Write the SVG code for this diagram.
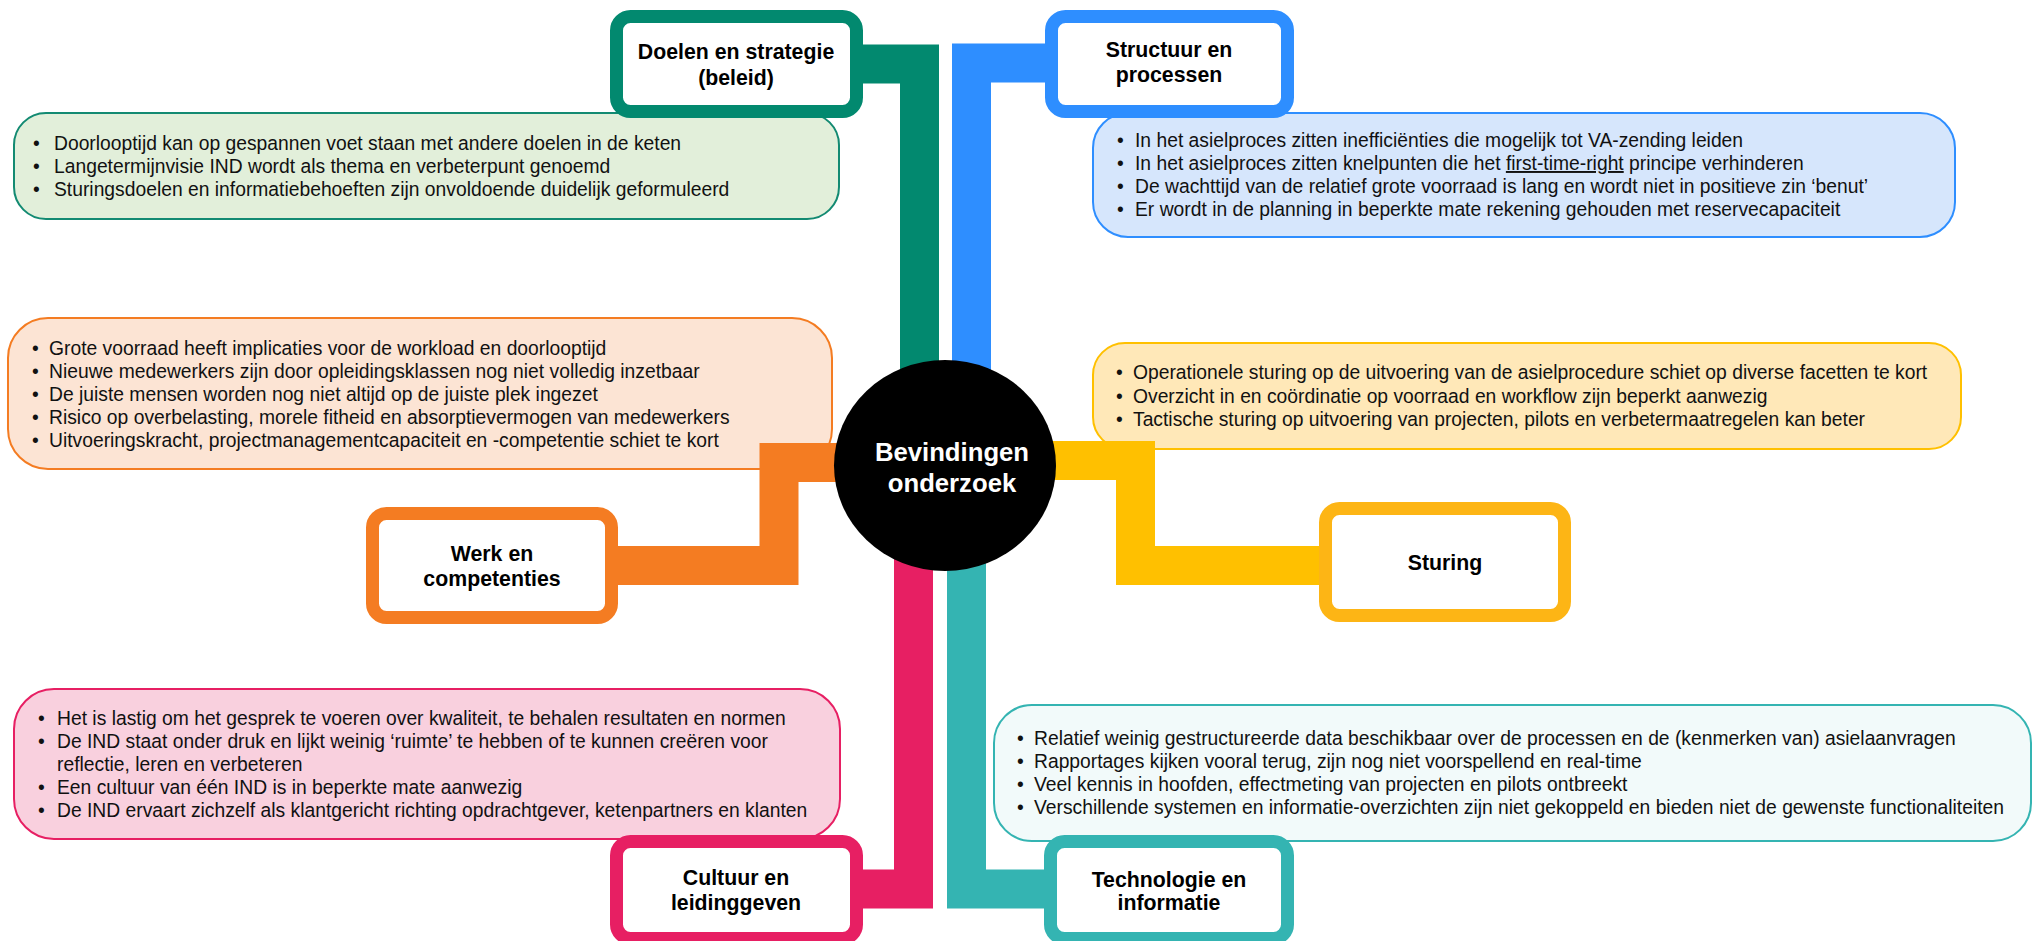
<svg xmlns="http://www.w3.org/2000/svg" width="2034" height="941" viewBox="0 0 2034 941">
<style>
text{font-family:"Liberation Sans",Arial,sans-serif;}
.b{font-size:19.3px;fill:#111;}
.lbl{font-size:21.3px;font-weight:bold;fill:#000;text-anchor:middle;}
.ctr{font-size:25.7px;font-weight:bold;fill:#fff;text-anchor:middle;}
.bub{stroke-width:2;}
.box{fill:#fff;stroke-width:13;}
.con{fill:none;stroke-width:39;stroke-linejoin:miter;stroke-linecap:butt;}
</style>
<rect width="2034" height="941" fill="#fff"/>

<g id="bubble-doelen">
<rect class="bub" x="14" y="113" width="825" height="106" rx="32" fill="#E2EFDA" stroke="#138A72"/>
<text class="b" x="33" y="150">•</text><text class="b" x="54" y="150">Doorlooptijd kan op gespannen voet staan met andere doelen in de keten</text>
<text class="b" x="33" y="173">•</text><text class="b" x="54" y="173">Langetermijnvisie IND wordt als thema en verbeterpunt genoemd</text>
<text class="b" x="33" y="196">•</text><text class="b" x="54" y="196">Sturingsdoelen en informatiebehoeften zijn onvoldoende duidelijk geformuleerd</text>
</g>
<g id="bubble-structuur">
<rect class="bub" x="1093" y="113" width="862" height="124" rx="35" fill="#D6E6FC" stroke="#2E8EFF"/>
<text class="b" x="1117" y="147">•</text><text class="b" x="1135" y="147">In het asielproces zitten inefficiënties die mogelijk tot VA-zending leiden</text>
<text class="b" x="1117" y="170">•</text><text class="b" x="1135" y="170">In het asielproces zitten knelpunten die het <tspan text-decoration="underline">first-time-right</tspan> principe verhinderen</text>
<text class="b" x="1117" y="193">•</text><text class="b" x="1135" y="193">De wachttijd van de relatief grote voorraad is lang en wordt niet in positieve zin ‘benut’</text>
<text class="b" x="1117" y="216">•</text><text class="b" x="1135" y="216">Er wordt in de planning in beperkte mate rekening gehouden met reservecapaciteit</text>
</g>
<g id="bubble-werk">
<rect class="bub" x="8" y="318" width="824" height="151" rx="40" fill="#FCE4D4" stroke="#F47C22"/>
<text class="b" x="32" y="355">•</text><text class="b" x="49" y="355">Grote voorraad heeft implicaties voor de workload en doorlooptijd</text>
<text class="b" x="32" y="378">•</text><text class="b" x="49" y="378">Nieuwe medewerkers zijn door opleidingsklassen nog niet volledig inzetbaar</text>
<text class="b" x="32" y="401">•</text><text class="b" x="49" y="401">De juiste mensen worden nog niet altijd op de juiste plek ingezet</text>
<text class="b" x="32" y="424">•</text><text class="b" x="49" y="424">Risico op overbelasting, morele fitheid en absorptievermogen van medewerkers</text>
<text class="b" x="32" y="447">•</text><text class="b" x="49" y="447">Uitvoeringskracht, projectmanagementcapaciteit en -competentie schiet te kort</text>
</g>
<g id="bubble-sturing">
<rect class="bub" x="1093" y="343" width="868" height="106" rx="32" fill="#FFE8B8" stroke="#FFC000"/>
<text class="b" x="1116" y="379">•</text><text class="b" x="1133" y="379">Operationele sturing op de uitvoering van de asielprocedure schiet op diverse facetten te kort</text>
<text class="b" x="1116" y="403">•</text><text class="b" x="1133" y="403">Overzicht in en coördinatie op voorraad en workflow zijn beperkt aanwezig</text>
<text class="b" x="1116" y="426">•</text><text class="b" x="1133" y="426">Tactische sturing op uitvoering van projecten, pilots en verbetermaatregelen kan beter</text>
</g>
<g id="bubble-cultuur">
<rect class="bub" x="14" y="689" width="826" height="150" rx="40" fill="#F9D0DE" stroke="#E71F63"/>
<text class="b" x="38" y="725">•</text><text class="b" x="57" y="725">Het is lastig om het gesprek te voeren over kwaliteit,  te behalen resultaten en normen</text>
<text class="b" x="38" y="748">•</text><text class="b" x="57" y="748">De IND staat onder druk en lijkt weinig ‘ruimte’ te hebben of te kunnen creëren voor</text>
<text class="b" x="57" y="771">reflectie, leren en verbeteren</text>
<text class="b" x="38" y="794">•</text><text class="b" x="57" y="794">Een cultuur van één IND is in beperkte mate aanwezig</text>
<text class="b" x="38" y="817">•</text><text class="b" x="57" y="817">De IND ervaart zichzelf als klantgericht richting opdrachtgever, ketenpartners en klanten</text>
</g>
<g id="bubble-technologie">
<rect class="bub" x="994" y="705" width="1037" height="136" rx="38" fill="#F2FAFA" stroke="#34B4B2"/>
<text class="b" x="1017" y="745">•</text><text class="b" x="1034" y="745">Relatief weinig gestructureerde data beschikbaar over de processen en de (kenmerken van) asielaanvragen</text>
<text class="b" x="1017" y="768">•</text><text class="b" x="1034" y="768">Rapportages kijken vooral terug, zijn nog niet voorspellend en real-time</text>
<text class="b" x="1017" y="791">•</text><text class="b" x="1034" y="791">Veel kennis in hoofden, effectmeting van projecten en pilots ontbreekt</text>
<text class="b" x="1017" y="814">•</text><text class="b" x="1034" y="814">Verschillende systemen en informatie-overzichten zijn niet gekoppeld en bieden niet de gewenste functionaliteiten</text>
</g>

<g id="connectors">
<path class="con" stroke="#02896F" d="M855 64 H919.5 V440"/>
<path class="con" stroke="#2E8EFF" stroke-width="40" d="M971.5 440 V63 H1052"/>
<path class="con" stroke="#F47C22" d="M845 462.5 H779 V565.5 H612"/>
<path class="con" stroke="#FFC000" d="M1040 460.5 H1135.5 V565.5 H1326"/>
<path class="con" stroke="#E71F63" d="M913.5 490 V889 H855"/>
<path class="con" stroke="#34B4B2" d="M966.5 490 V889 H1050"/>
</g>

<g id="center">
<ellipse cx="945" cy="465.5" rx="111" ry="105.5" fill="#000"/>
<text class="ctr" x="952" y="461">Bevindingen</text>
<text class="ctr" x="952" y="492">onderzoek</text>
</g>

<g id="node-doelen">
<rect class="box" x="616.5" y="16.5" width="240" height="95" rx="14" stroke="#02896F"/>
<text class="lbl" x="736" y="59">Doelen en strategie</text>
<text class="lbl" x="736" y="85">(beleid)</text>
</g>
<g id="node-structuur">
<rect class="box" x="1051.5" y="16.5" width="236" height="95" rx="14" stroke="#2E8EFF"/>
<text class="lbl" x="1169" y="57">Structuur en</text>
<text class="lbl" x="1169" y="82">processen</text>
</g>
<g id="node-werk">
<rect class="box" x="372.5" y="513.5" width="239" height="104" rx="14" stroke="#F47C22"/>
<text class="lbl" x="492" y="561">Werk en</text>
<text class="lbl" x="492" y="586">competenties</text>
</g>
<g id="node-sturing">
<rect class="box" x="1325.5" y="508.5" width="239" height="107" rx="14" stroke="#FDB515"/>
<text class="lbl" x="1445" y="570">Sturing</text>
</g>
<g id="node-cultuur">
<rect class="box" x="616.5" y="841.5" width="240" height="97" rx="14" stroke="#E71F63"/>
<text class="lbl" x="736" y="885">Cultuur en</text>
<text class="lbl" x="736" y="910">leidinggeven</text>
</g>
<g id="node-technologie">
<rect class="box" x="1050.5" y="841.5" width="237" height="97" rx="14" stroke="#34B4B2"/>
<text class="lbl" x="1169" y="887">Technologie en</text>
<text class="lbl" x="1169" y="910">informatie</text>
</g>
</svg>
